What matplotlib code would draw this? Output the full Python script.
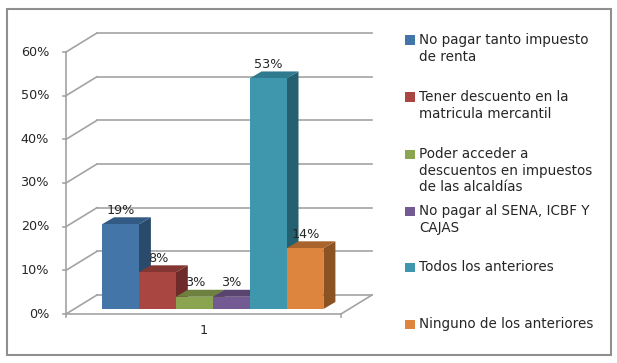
import matplotlib
matplotlib.use("Agg")
import matplotlib.pyplot as plt
from matplotlib.patches import Polygon, Rectangle

categories = ["No pagar tanto impuesto\nde renta",
              "Tener descuento en la\nmatricula mercantil",
              "Poder acceder a\ndescuentos en impuestos\nde las alcaldías",
              "No pagar al SENA, ICBF Y\nCAJAS",
              "Todos los anteriores",
              "Ninguno de los anteriores"]
values = [19.4, 8.4, 2.8, 2.8, 52.8, 13.9]
labels = ["19%", "8%", "3%", "3%", "53%", "14%"]
front = ["#4375a8", "#aa4642", "#8ba44f", "#735a92", "#3f97ae", "#dd843e"]
top = ["#335a84", "#843633", "#6d8040", "#58446f", "#2f7a8e", "#a9642e"]
side = ["#2a4a6c", "#6e2b29", "#5a6c32", "#48385c", "#256070", "#8b5223"]
yticks = [0, 10, 20, 30, 40, 50, 60]

W, H = 617, 363
fig = plt.figure(figsize=(W / 100, H / 100), dpi=100, facecolor="white")
ax = fig.add_axes([0, 0, 1, 1])
ax.set_axis_off()
# pixel-to-data mapping: x in bar widths, y in percent
X0, Y0, PX, PY = 66, 314, 36.9, 262 / 60
ax.set_xlim((0 - X0) / PX, (W - X0) / PX)
ax.set_ylim((Y0 - H) / PY, Y0 / PY)
dxp = lambda p: p / PX
dyp = lambda p: p / PY

GRID = "#a3a3a3"
TXT = "#262626"
lw = 1.2
xend = (341 - X0) / PX
wx, wy = dxp(31), dyp(19)
# frame
fig.add_artist(Rectangle((7 / W, 1 - 355 / H), 604 / W, 346 / H, transform=fig.transFigure,
                         fill=False, ec="#8f8f8f", lw=1.5))
# walls, gridlines
for t in yticks:
    ax.plot([0, wx], [t, t + wy], color=GRID, lw=lw, zorder=1)
    ax.plot([wx, xend + wx], [t + wy, t + wy], color=GRID, lw=lw, zorder=1)
    ax.plot([-dxp(3), 0], [t, t], color=GRID, lw=lw, zorder=1)
    ax.text(dxp(-17), t, f"{t}%", ha="right", va="center", fontsize=9.2, color=TXT)
ax.plot([0, 0], [0, 60], color=GRID, lw=lw, zorder=1)
ax.plot([0, xend], [0, 0], color=GRID, lw=lw, zorder=1)
ax.plot([xend, xend + wx], [0, wy], color=GRID, lw=lw, zorder=1)
for x in (0, xend):
    ax.plot([x, x], [0, -dyp(3)], color=GRID, lw=lw, zorder=1)
ax.text((204 - X0) / PX, dyp(-17), "1", ha="center", va="center", fontsize=9.2, color=TXT)

# bars with depth
bx0 = dxp(102 - X0)
by0 = dyp(5)
ddx, ddy = dxp(12), dyp(7)
for i, v in enumerate(values):
    l, r = bx0 + i, bx0 + i + 1
    b, h = by0, by0 + v
    z = 3 + i
    ax.add_patch(Polygon([(r, b), (r + ddx, b + ddy), (r + ddx, h + ddy), (r, h)],
                         fc=side[i], ec="none", zorder=z))
    ax.add_patch(Polygon([(l, h), (r, h), (r + ddx, h + ddy), (l + ddx, h + ddy)],
                         fc=top[i], ec="none", zorder=z))
    ax.add_patch(Rectangle((l, b), 1, v, fc=front[i], ec="none", zorder=z))
    ax.text(l + 0.5 + dxp(0.5), h + ddy + dyp(7), labels[i], ha="center", va="center",
            fontsize=9.2, color=TXT, zorder=20)

# legend
leg_y = [40, 97, 154, 211, 267, 324]
for c, col, y in zip(categories, front, leg_y):
    ax.add_patch(Rectangle(((405 - X0) / PX, (Y0 - y - 4.5) / PY), 10 / PX, 9 / PY,
                           fc=col, ec="none", zorder=3))
    for j, line in enumerate(c.split("\n")):
        ax.text((419 - X0) / PX, (Y0 - y - j * 16.6) / PY, line, ha="left", va="center",
                fontsize=9.75, color=TXT)

fig.savefig("out.png", dpi=100, facecolor="white")
